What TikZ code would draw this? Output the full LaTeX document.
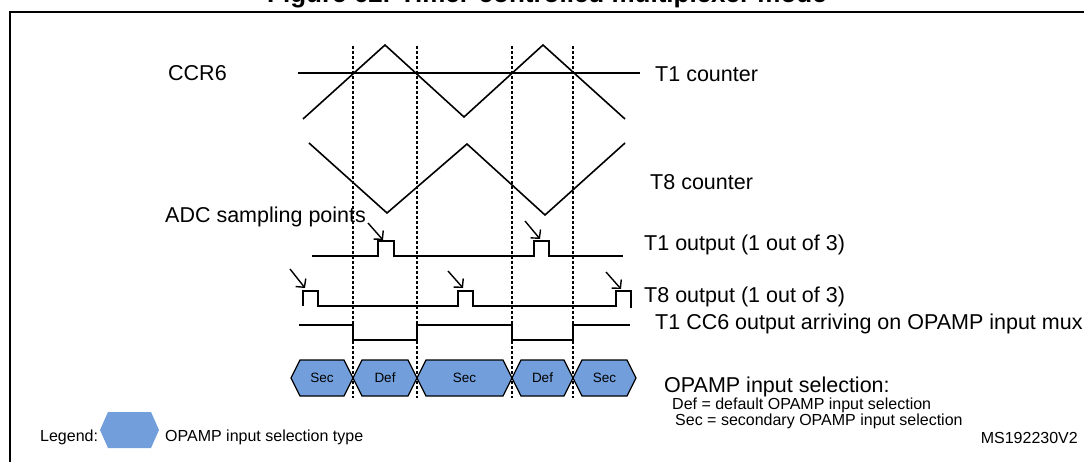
\documentclass[tikz,border=0pt]{standalone}
\usepackage{fontspec}
\setmainfont{Liberation Sans}
\usetikzlibrary{arrows.meta}
\definecolor{hexblue}{RGB}{114,159,220}
\newcommand\hexseg[4]{%
  \draw[hexfill] (#2,378) -- ({#2+9},360) -- ({#3-9},360) -- (#3,378) -- ({#3-9},396) -- ({#2+9},396) -- cycle;
  \node[hexlbl] (#1) at ({(#2+#3)/2},378) {#4};}
\begin{document}
\begin{tikzpicture}[x=1pt,y=-1pt,
  wave/.style={line width=1.6pt, line join=miter},
  guide/.style={line width=1.3pt, dash pattern=on 3pt off 2pt},
  lbl/.style={anchor=base west, inner sep=0pt, font=\fontsize{21.5}{25}\selectfont},
  small/.style={anchor=base west, inner sep=0pt, font=\fontsize{16}{19}\selectfont},
  hexlbl/.style={inner sep=0pt, font=\fontsize{13.5}{15}\selectfont},
  hexfill/.style={fill=hexblue, draw=black, line width=1.3pt, line join=miter},
  sample/.style={line width=1.4pt, -{Straight Barb[length=6pt,width=13pt]}}
]
\useasboundingbox (0,0) rectangle (1084,462);
% title (clipped at the top) and frame
\node[anchor=base, inner sep=0pt, font=\bfseries\fontsize{26}{30}\selectfont] (title) at (547,3) {Figure 62. Timer-controlled multiplexer mode};
\draw[line width=2pt] (9.5,470) -- (9.5,12) -- (1095,12);
% dashed guides
\foreach \gx in {353,417,512,573} \draw[guide] (\gx,46) -- (\gx,398);
% CCR6 level and T1 counter
\draw[wave] (298,73) -- (640,73);
\draw[wave] (303,119) -- (385,45) -- (464,117) -- (543,45) -- (625,119);
% T8 counter
\draw[wave] (309,143) -- (387,213) -- (467,144) -- (545,215) -- (625,143);
% T1 output
\draw[wave] (312,256) -- (378,256) -- (378,241) -- (394,241) -- (394,256) -- (534,256) -- (534,241) -- (549,241) -- (549,256) -- (623,256);
% T8 output
\draw[wave] (303,306) -- (303,291) -- (318,291) -- (318,306) -- (458,306) -- (458,291) -- (473,291) -- (473,306) -- (616,306) -- (616,291) -- (631,291) -- (631,308);
% T1 CC6 output
\draw[wave] (299,325) -- (353,325) -- (353,340) -- (417,340) -- (417,325) -- (512,325) -- (512,340) -- (573,340) -- (573,325) -- (630,325);
% sampling arrows
\coordinate (a1s) at (368,223); \coordinate (a1e) at (383,240);
\coordinate (a2s) at (525,221); \coordinate (a2e) at (540,239);
\coordinate (b1s) at (290,269); \coordinate (b1e) at (305,288);
\coordinate (b2s) at (448,271); \coordinate (b2e) at (463,288);
\coordinate (b3s) at (606,272); \coordinate (b3e) at (621,289);
\draw[sample] (a1s) -- (a1e);
\draw[sample] (a2s) -- (a2e);
\draw[sample] (b1s) -- (b1e);
\draw[sample] (b2s) -- (b2e);
\draw[sample] (b3s) -- (b3e);
% hexagons
\hexseg{h1}{291}{353}{Sec}
\hexseg{h2}{353}{417}{Def}
\hexseg{h3}{417}{512}{Sec}
\hexseg{h4}{512}{573}{Def}
\hexseg{h5}{573}{636}{Sec}
% labels
\node[lbl] (ccr) at (168,80.5) {CCR6};
\node[lbl] (t1c) at (655,82) {T1 counter};
\node[lbl] (t8c) at (650,190) {T8 counter};
\node[lbl] (adc) at (165,223) {ADC sampling points};
\node[lbl] (t1o) at (644,251) {T1 output (1 out of 3)};
\node[lbl] (t8o) at (644,302) {T8 output (1 out of 3)};
\node[lbl] (cc6) at (655,330) {T1 CC6 output arriving on OPAMP input mux};
\node[lbl] (sel) at (664,392) {OPAMP input selection:};
\node[small] (def) at (672,409) {Def = default OPAMP input selection};
\node[small] (sec) at (675,425) {Sec = secondary OPAMP input selection};
\node[small, anchor=base east] (ms) at (1078,443) {MS192230V2};
% legend
\node[small] (leg) at (40,441) {Legend:};
\fill[hexblue] (100,430) -- (108,412) -- (151,412) -- (159,430) -- (151,448) -- (108,448) -- cycle;
\node[small] (legt) at (165,441) {OPAMP input selection type};
\end{tikzpicture}
\end{document}
